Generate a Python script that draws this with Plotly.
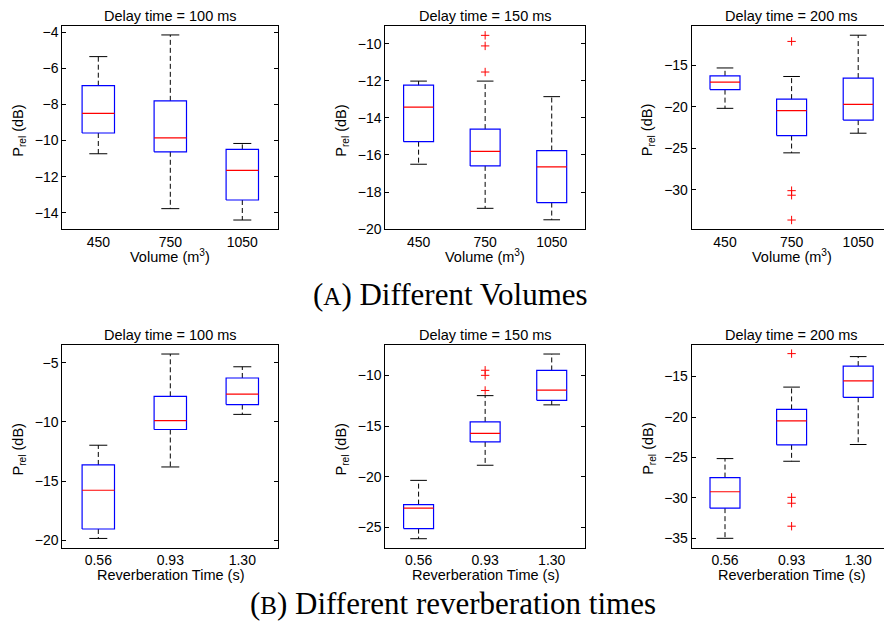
import plotly.graph_objects as go

# ---------------- data ----------------
vol_labels = ["450", "750", "1050"]
rt_labels = ["0.56", "0.93", "1.30"]
delay_titles = ["Delay time = 100 ms", "Delay time = 150 ms", "Delay time = 200 ms"]

# (A) Different volumes, delay 100 ms
a100_low = [-10.73, -13.77, -14.40]
a100_q1 = [-9.58, -10.62, -13.29]
a100_med = [-8.49, -9.85, -11.65]
a100_q3 = [-6.96, -7.80, -10.49]
a100_high = [-5.35, -4.15, -10.16]
a100_out_cat = []
a100_out_val = []

# (A) delay 150 ms
a150_low = [-16.50, -18.88, -19.50]
a150_q1 = [-15.28, -16.59, -18.57]
a150_med = [-13.41, -15.80, -16.64]
a150_q3 = [-12.23, -14.60, -15.76]
a150_high = [-12.01, -12.01, -12.85]
a150_out_cat = [2, 2, 2]
a150_out_val = [-9.54, -10.11, -11.52]

# (A) delay 200 ms
a200_low = [-20.19, -25.56, -23.19]
a200_q1 = [-17.93, -23.47, -21.61]
a200_med = [-17.02, -20.46, -19.71]
a200_q3 = [-16.27, -19.08, -16.54]
a200_high = [-15.32, -16.35, -11.37]
a200_out_cat = [2, 2, 2, 2]
a200_out_val = [-12.12, -30.12, -30.67, -33.66]

# (B) Different reverberation times, delay 100 ms
b100_low = [-19.86, -13.81, -9.36]
b100_q1 = [-19.06, -10.64, -8.53]
b100_med = [-15.78, -9.89, -7.64]
b100_q3 = [-13.64, -7.83, -6.28]
b100_high = [-11.97, -4.25, -5.33]
b100_out_cat = []
b100_out_val = []

# (B) delay 150 ms
b150_low = [-26.10, -18.86, -12.91]
b150_q1 = [-25.10, -16.56, -12.46]
b150_med = [-23.09, -15.72, -11.45]
b150_q3 = [-22.74, -14.59, -9.52]
b150_high = [-20.35, -12.00, -7.90]
b150_out_cat = [2, 2, 2]
b150_out_val = [-9.50, -10.00, -11.49]

# (B) delay 200 ms
b200_low = [-35.00, -25.47, -23.40]
b200_q1 = [-31.27, -23.44, -17.56]
b200_med = [-29.24, -20.48, -15.53]
b200_q3 = [-27.49, -19.06, -13.70]
b200_high = [-25.14, -16.30, -12.53]
b200_out_cat = [2, 2, 2, 2]
b200_out_val = [-12.16, -29.93, -30.66, -33.50]

# axis ranges / ticks
y_ranges = [[-14.9, -3.65], [-20.0, -9.03], [-34.75, -10.25],
            [-20.63, -3.47], [-26.97, -6.99], [-36.14, -11.07]]
y_dticks = [2, 2, 5, 5, 5, 5]

# ---------------- layout geometry (pixels) ----------------
W, H = 884, 633
FONT = "Liberation Sans, Arial, sans-serif"
SERIF = "Liberation Serif, Times New Roman, serif"

# x pixel extents of each axes (left, visible right, full right incl. offscreen)
col_px = [(62.3, 278.3, 278.3), (385.3, 585.0, 585.0), (691.7, 884.0, 891.5)]
row_px = [(24.3, 230.7), (348.3, 554.3)]
xtitle_off = [27.0, 28.0]

BW = 0.225   # half box width (category units)
CW = 0.125   # half cap width


def px2x(p):
    return p / W


def px2y(p):
    return 1 - p / H


panels = [
    (0, 0, vol_labels, a100_low, a100_q1, a100_med, a100_q3, a100_high, a100_out_cat, a100_out_val),
    (0, 1, vol_labels, a150_low, a150_q1, a150_med, a150_q3, a150_high, a150_out_cat, a150_out_val),
    (0, 2, vol_labels, a200_low, a200_q1, a200_med, a200_q3, a200_high, a200_out_cat, a200_out_val),
    (1, 0, rt_labels, b100_low, b100_q1, b100_med, b100_q3, b100_high, b100_out_cat, b100_out_val),
    (1, 1, rt_labels, b150_low, b150_q1, b150_med, b150_q3, b150_high, b150_out_cat, b150_out_val),
    (1, 2, rt_labels, b200_low, b200_q1, b200_med, b200_q3, b200_high, b200_out_cat, b200_out_val),
]
x_titles = ["Volume (m<sup>3</sup>)", "Reverberation Time (s)"]

fig = go.Figure()
annotations = []

for k, (r, c, labels, low, q1, med, q3, high, ocat, oval) in enumerate(panels):
    n = k + 1
    xa = "x" if n == 1 else f"x{n}"
    ya = "y" if n == 1 else f"y{n}"
    pos = [i + 1 for i in range(len(labels))]

    # whiskers (dashed)
    wx, wy = [], []
    for p, lo_, a_, b_, hi_ in zip(pos, low, q1, q3, high):
        wx += [p, p, None, p, p, None]
        wy += [b_, hi_, None, a_, lo_, None]
    fig.add_trace(go.Scatter(x=wx, y=wy, mode="lines", xaxis=xa, yaxis=ya,
                             line=dict(color="black", width=1, dash="5px,3px"),
                             hoverinfo="skip", showlegend=False))
    # caps
    cx, cy = [], []
    for p, lo_, hi_ in zip(pos, low, high):
        cx += [p - CW, p + CW, None, p - CW, p + CW, None]
        cy += [hi_, hi_, None, lo_, lo_, None]
    fig.add_trace(go.Scatter(x=cx, y=cy, mode="lines", xaxis=xa, yaxis=ya,
                             line=dict(color="black", width=1),
                             hoverinfo="skip", showlegend=False))
    # boxes
    bx, by = [], []
    for p, a_, b_ in zip(pos, q1, q3):
        bx += [p - BW, p + BW, p + BW, p - BW, p - BW, None]
        by += [a_, a_, b_, b_, a_, None]
    fig.add_trace(go.Scatter(x=bx, y=by, mode="lines", xaxis=xa, yaxis=ya,
                             line=dict(color="#0000ff", width=1.2),
                             hoverinfo="skip", showlegend=False))
    # medians
    mx, my = [], []
    for p, m_ in zip(pos, med):
        mx += [p - BW, p + BW, None]
        my += [m_, m_, None]
    fig.add_trace(go.Scatter(x=mx, y=my, mode="lines", xaxis=xa, yaxis=ya,
                             line=dict(color="#ff0000", width=1.2),
                             hoverinfo="skip", showlegend=False))
    # outliers
    if ocat:
        fig.add_trace(go.Scatter(x=ocat, y=oval, mode="markers", xaxis=xa, yaxis=ya,
                                 marker=dict(symbol="cross-thin", size=6,
                                             line=dict(color="#ff0000", width=1)),
                                 hoverinfo="skip", showlegend=False))

    left, right, full_right = col_px[c]
    top, bottom = row_px[r]
    unit = (full_right - left) / 3.0
    xmax = 0.5 + (right - left) / unit
    right_col = (c == 2)

    fig.update_layout(**{
        ("xaxis" if n == 1 else f"xaxis{n}"): dict(
            domain=[px2x(left), px2x(right)], range=[0.5, xmax], anchor=ya,
            tickmode="array", tickvals=pos, ticktext=labels, ticks="",
            showline=True, linecolor="black", linewidth=1, mirror=True,
            showgrid=False, zeroline=False, fixedrange=True,
            tickfont=dict(family=FONT, size=14, color="black")),
        ("yaxis" if n == 1 else f"yaxis{n}"): dict(
            domain=[px2y(bottom), px2y(top)], range=y_ranges[k], anchor=xa,
            tick0=0, dtick=y_dticks[k], ticks="inside", ticklen=4, tickcolor="black",
            showline=True, linecolor="black", linewidth=1,
            mirror=(False if right_col else "allticks"),
            showgrid=False, zeroline=False, fixedrange=True,
            tickfont=dict(family=FONT, size=14, color="black")),
    })

    cxp = (left + full_right) / 2.0
    # subplot title
    annotations.append(dict(text=delay_titles[c], x=px2x(cxp), y=px2y(top - 10),
                            xref="paper", yref="paper", xanchor="center", yanchor="middle",
                            showarrow=False, font=dict(family=FONT, size=14.5, color="black")))
    # x title
    annotations.append(dict(text=x_titles[r], x=px2x(cxp), y=px2y(bottom + xtitle_off[r]),
                            xref="paper", yref="paper", xanchor="center", yanchor="middle",
                            showarrow=False, font=dict(family=FONT, size=14.5, color="black")))
    # y title
    annotations.append(dict(text="P<sub>rel</sub> (dB)", x=px2x(left - 43), y=px2y((top + bottom) / 2 + 3),
                            xref="paper", yref="paper", xanchor="center", yanchor="middle",
                            textangle=-90, showarrow=False,
                            font=dict(family=FONT, size=14.5, color="black")))

# captions
annotations.append(dict(text="(<span style='font-size:25px'>A</span>) Different Volumes",
                        x=px2x(451), y=px2y(297), xref="paper", yref="paper",
                        xanchor="center", yanchor="middle", showarrow=False,
                        font=dict(family=SERIF, size=31, color="black")))
annotations.append(dict(text="(<span style='font-size:25px'>B</span>) Different reverberation times",
                        x=px2x(453), y=px2y(611), xref="paper", yref="paper",
                        xanchor="center", yanchor="middle", showarrow=False,
                        font=dict(family=SERIF, size=31, color="black")))

fig.update_layout(width=W, height=H, margin=dict(l=0, r=0, t=0, b=0),
                  paper_bgcolor="white", plot_bgcolor="white",
                  annotations=annotations, showlegend=False)

fig.write_html("out.html", config={"displayModeBar": False})
